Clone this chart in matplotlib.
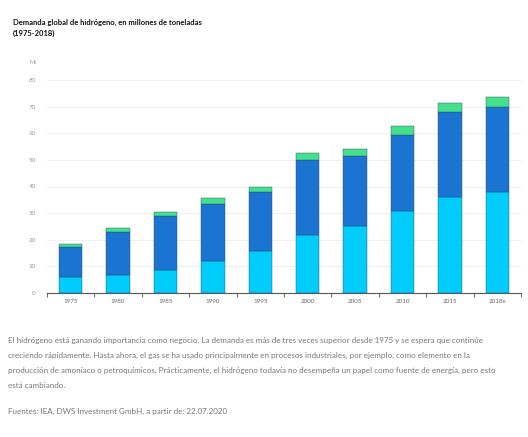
import matplotlib
matplotlib.use("Agg")
import matplotlib.pyplot as plt
import numpy as np

categories = ["1975", "1980", "1985", "1990", "1995", "2000", "2005", "2010", "2015", "2018e"]
light = [6.1, 6.6, 8.5, 12.0, 15.7, 21.6, 25.3, 30.9, 35.9, 38.1]
dark = [11.2, 16.4, 20.4, 21.5, 22.2, 28.5, 26.2, 28.4, 32.0, 31.6]
green = [1.1, 1.5, 1.6, 2.0, 2.1, 2.4, 2.7, 3.3, 3.6, 4.1]
yticks = [0, 10, 20, 30, 40, 50, 60, 70, 80]

c_light = "#00cdfc"
c_dark = "#1b74d2"
c_green = "#44e08c"

fig = plt.figure(figsize=(5.28, 4.37), dpi=100)
ax = fig.add_axes([47/528, 1 - 293/437, 474/528, 213/437])

x = np.arange(len(categories))
w = 0.49
ec = "#2a4a6a"
ax.bar(x, light, w, color=c_light, edgecolor=ec, linewidth=0.3, zorder=3)
ax.bar(x, dark, w, bottom=light, color=c_dark, edgecolor=ec, linewidth=0.3, zorder=3)
b2 = np.array(light) + np.array(dark)
ax.bar(x, green, w, bottom=b2, color=c_green, edgecolor=ec, linewidth=0.3, zorder=3)

ax.set_xlim(-0.5, len(categories) - 0.5)
ax.set_ylim(0, 80)
ax.set_yticks(yticks)
ax.set_yticklabels([str(v) for v in yticks], fontsize=4.5, color="#999999", family="Lato")
ax.tick_params(axis="y", length=0, pad=8)
ax.grid(axis="y", color="#eeeeee", linewidth=0.6, zorder=0)
ax.set_xticks(x)
ax.set_xticklabels(categories, fontsize=4.5, color="#666666", family="Lato")
ax.tick_params(axis="x", length=0, pad=4)
ax.set_xticks(np.arange(len(categories) + 1) - 0.5, minor=True)
ax.tick_params(axis="x", which="minor", length=3, width=0.6, color="#555555", direction="out")
for s in ["top", "right", "left"]:
    ax.spines[s].set_visible(False)
ax.spines["bottom"].set_color("#555555")
ax.spines["bottom"].set_linewidth(0.8)

fig.text(30/528, 1 - 63/437, "Mt", fontsize=4, color="#999999", family="Lato", va="center")

fig.text(13/528, 1 - 22/437, "Demanda global de hidrógeno, en millones de toneladas",
         fontsize=5.5, fontweight="bold", family="Lato", color="#111111", va="center")
fig.text(13/528, 1 - 33/437, "(1975-2018)",
         fontsize=5.5, fontweight="bold", family="Lato", color="#111111", va="center")

body = [
    "El hidrógeno está ganando importancia como negocio. La demanda es más de tres veces superior desde 1975 y se espera que continúe",
    "creciendo rápidamente. Hasta ahora, el gas se ha usado principalmente en procesos industriales, por ejemplo, como elemento en la",
    "producción de amoníaco o petroquímicos. Prácticamente, el hidrógeno todavía no desempeña un papel como fuente de energía, pero esto",
    "está cambiando.",
]
for i, line in enumerate(body):
    fig.text(8/528, 1 - (340 + 15 * i)/437, line, fontsize=5.8, family="Lato",
             color="#777777", va="center")
fig.text(8/528, 1 - 411/437, "Fuentes: IEA, DWS Investment GmbH, a partir de: 22.07.2020",
         fontsize=5.8, family="Lato", color="#777777", va="center")

fig.savefig("out.png", dpi=100, facecolor="white")
